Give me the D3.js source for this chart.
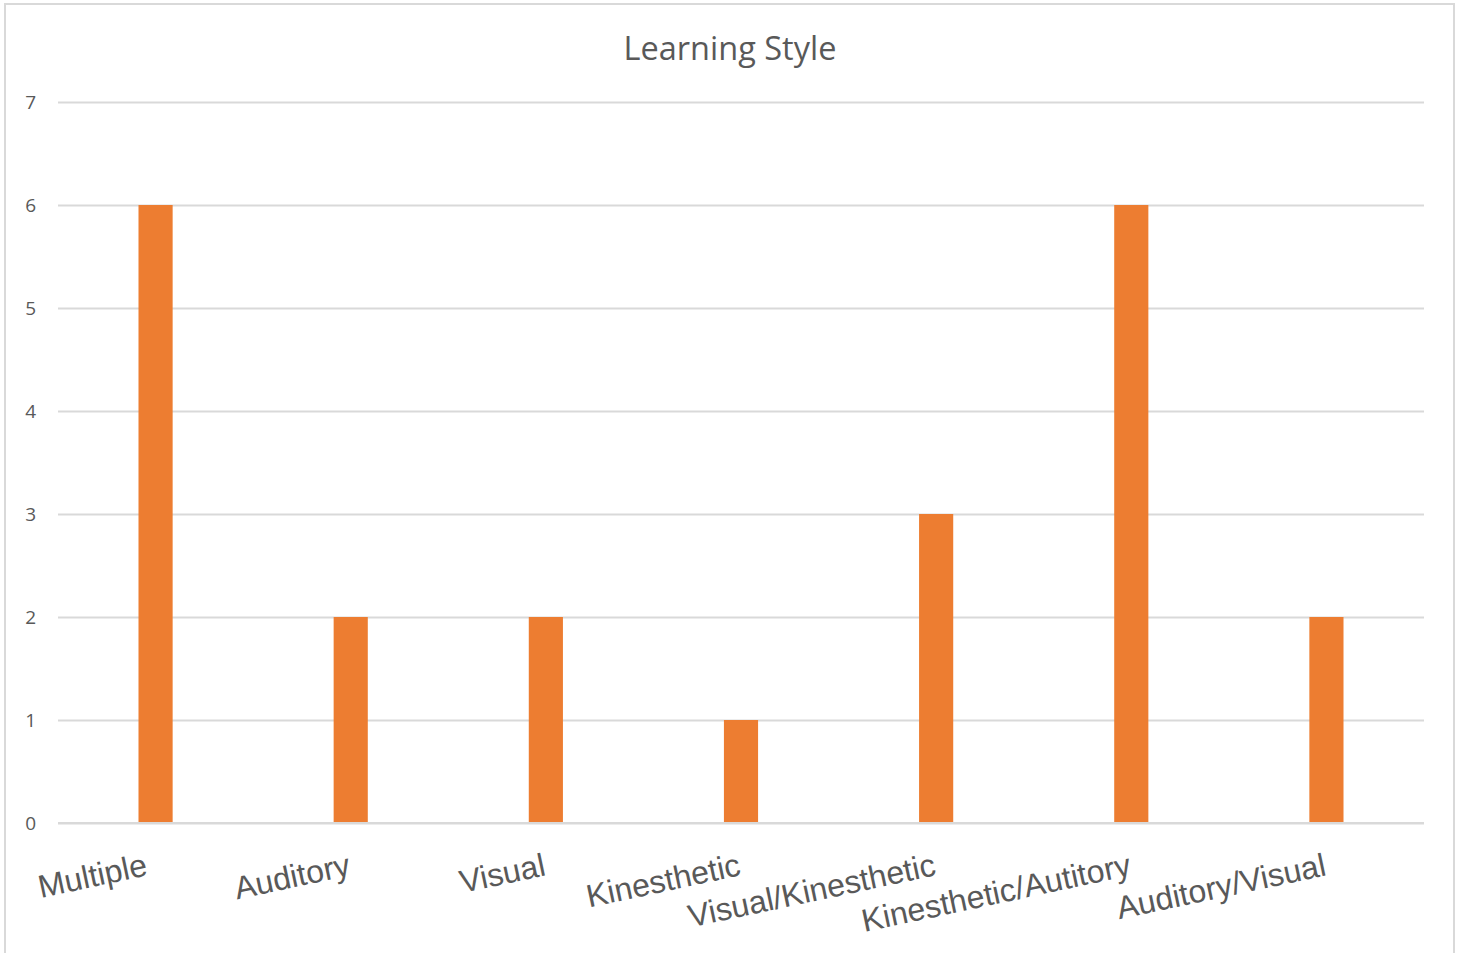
<!DOCTYPE html>
<html>
<head>
<meta charset="utf-8">
<script src="https://cdn.jsdelivr.net/npm/d3@7/dist/d3.min.js"></script>
<style>
  html, body { margin: 0; padding: 0; background: #fff; }
  svg { display: block; }
</style>
</head>
<body>
<svg id="chart" width="1461" height="953"></svg>
<script>
// Learning style survey counts
const categories = ["Multiple", "Auditory", "Visual", "Kinesthetic", "Visual/Kinesthetic", "Kinesthetic/Autitory", "Auditory/Visual"];
const counts = [6, 2, 2, 1, 3, 6, 2];
const yTicks = [0, 1, 2, 3, 4, 5, 6, 7];
const title = "Learning Style";

const svg = d3.select("#chart");
const W = 1461, H = 953;
const margin = { left: 58, right: 37, top: 102, bottom: 130 };
const plotW = W - margin.left - margin.right;
const plotH = H - margin.top - margin.bottom;

// chart frame
svg.append("rect")
  .attr("x", 5).attr("y", 4)
  .attr("width", 1449).attr("height", 1000)
  .attr("fill", "#fff")
  .attr("stroke", "#d9d9d9").attr("stroke-width", 2);

svg.append("text")
  .attr("x", 730).attr("y", 60)
  .attr("text-anchor", "middle")
  .attr("font-family", "'Open Sans', sans-serif")
  .attr("font-size", 32.5)
  .attr("fill", "#595959")
  .text(title);

const x = d3.scaleBand().domain(categories).range([0, plotW]).paddingInner(0).paddingOuter(0);
const y = d3.scaleLinear().domain([0, 7]).range([plotH, 0]);

const g = svg.append("g").attr("transform", `translate(${margin.left},${margin.top})`);

// horizontal gridlines
const yAxis = d3.axisLeft(y).tickValues(yTicks).tickSize(-plotW).tickPadding(0).tickFormat(d3.format("d"));
const ya = g.append("g").call(yAxis);
ya.select(".domain").remove();
ya.selectAll(".tick line").attr("stroke", "#d9d9d9").attr("stroke-width", 2);
ya.selectAll(".tick text")
  .attr("x", -22)
  .attr("font-family", "'Open Sans', sans-serif")
  .attr("font-size", 19)
  .attr("fill", "#595959");

// bars
const barW = x.bandwidth() * 0.175;
g.selectAll("rect.bar")
  .data(categories)
  .join("rect")
  .attr("class", "bar")
  .attr("x", d => x(d) + x.bandwidth() / 2 - barW / 2)
  .attr("y", (d, i) => y(counts[i]))
  .attr("width", barW)
  .attr("height", (d, i) => y(0) - y(counts[i]))
  .attr("fill", "#ed7d31");

// redraw the baseline above the bars
g.append("line")
  .attr("x1", 0).attr("x2", plotW)
  .attr("y1", y(0)).attr("y2", y(0))
  .attr("stroke", "#d9d9d9").attr("stroke-width", 2);

// slanted category labels
const xAxis = d3.axisBottom(x).tickSize(0).tickPadding(0);
const xa = g.append("g").attr("transform", `translate(0,${plotH})`).call(xAxis);
xa.select(".domain").remove();
xa.selectAll(".tick text")
  .attr("text-anchor", "end")
  .attr("dy", 0)
  .attr("y", 0)
  .attr("transform", (d, i) => `translate(${i === 0 ? -7 : 1},52) rotate(-12)`)
  .attr("font-family", "'Liberation Sans', Arial, sans-serif")
  .attr("font-size", 32)
  .attr("fill", "#595959");
</script>
</body>
</html>
